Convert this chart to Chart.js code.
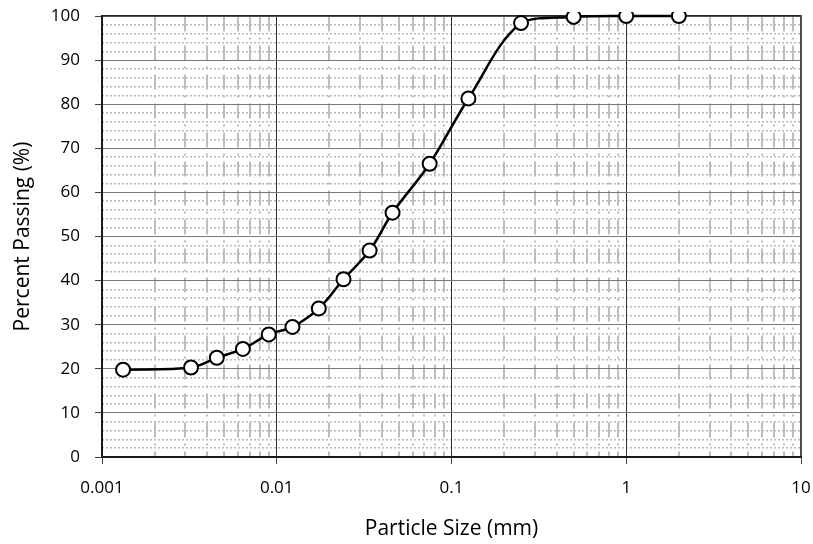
<!DOCTYPE html>
<html>
<head>
<meta charset="utf-8">
<script src="https://cdn.jsdelivr.net/npm/chart.js@4"></script>
<style>
  html, body { margin: 0; padding: 0; background: #fff; }
  #wrap { width: 813px; height: 544px; }
</style>
</head>
<body>
<div id="wrap"><canvas id="chart1"></canvas></div>
<script>
// particle size (mm) and percent passing
var sizes = [0.00132, 0.00323, 0.00454, 0.0064, 0.009, 0.0123, 0.0174, 0.0241, 0.034, 0.046, 0.075, 0.125, 0.25, 0.5, 1, 2];
var passing = [19.8, 20.3, 22.5, 24.5, 27.8, 29.5, 33.7, 40.3, 46.8, 55.4, 66.5, 81.3, 98.4, 99.8, 100, 100];

var xTickLabels = ['0.001', '0.01', '0.1', '1', '10'];
var decades = [0.001, 0.01, 0.1, 1, 10];
var yTicks = [0, 10, 20, 30, 40, 50, 60, 70, 80, 90, 100];

var font = "'Open Sans', 'Liberation Sans', sans-serif";

function isDecade(v) {
    var l = Math.log10(v);
    return Math.abs(l - Math.round(l)) < 1e-6;
}

// major ticks at each decade, minor at 2..9
function logTicks(scale) {
    var t = [];
    for (var d = 0; d < decades.length; d++) {
        t.push({ value: decades[d], major: true });
        if (d < decades.length - 1) {
            for (var k = 2; k <= 9; k++) t.push({ value: decades[d] * k, major: false });
        }
    }
    scale.ticks = t;
}

function noPad(s) {
    s.paddingTop = 0; s.paddingBottom = 0;
    s.paddingLeft = 0; s.paddingRight = 0;
}

var points = sizes.map(function (s, i) { return { x: s, y: passing[i] }; });

var ctx = document.getElementById('chart1').getContext('2d');
var myChart = new Chart(ctx, {
    type: 'line',
    data: {
        datasets: [{
            data: points,
            borderColor: '#000',
            borderWidth: 2.5,
            tension: 0.35,
            pointRadius: 7,
            pointBorderWidth: 2,
            pointBackgroundColor: '#fff',
            pointBorderColor: '#000',
            clip: 4
        }]
    },
    options: {
        responsive: true,
        maintainAspectRatio: false,
        animation: false,
        layout: { padding: { left: 0, right: 12, top: 16, bottom: 0 } },
        plugins: {
            legend: { display: false },
            tooltip: { enabled: false }
        },
        scales: {
            x2: {
                type: 'logarithmic',
                position: 'top',
                min: 0.001,
                max: 10,
                afterBuildTicks: logTicks,
                afterFit: function (s) { s.height = 0; noPad(s); },
                ticks: { display: false, autoSkip: false },
                grid: {
                    drawTicks: false,
                    lineWidth: 2,
                    color: function (c) {
                        return c.tick && !isDecade(c.tick.value) ? '#bdbdbd' : 'rgba(0,0,0,0)';
                    }
                },
                border: { display: true, color: '#262626', width: 1.5, dash: [15, 6, 2, 6] }
            },
            y2: {
                position: 'right',
                min: 0,
                max: 100,
                afterFit: function (s) { s.width = 0; noPad(s); },
                ticks: { display: false, stepSize: 2 },
                grid: {
                    drawTicks: false,
                    lineWidth: 1.5,
                    color: function (c) {
                        return c.tick && c.tick.value % 10 !== 0 ? '#b8b8b8' : 'rgba(0,0,0,0)';
                    }
                },
                border: { display: true, color: '#4d4d4d', width: 2, dash: [2, 2] }
            },
            x: {
                type: 'logarithmic',
                position: 'bottom',
                min: 0.001,
                max: 10,
                afterBuildTicks: logTicks,
                afterFit: function (s) { s.height = 87; noPad(s); },
                ticks: {
                    autoSkip: false,
                    maxRotation: 0,
                    padding: 14,
                    color: '#000',
                    font: { family: font, size: 17 },
                    callback: function (value) {
                        if (!isDecade(value)) return '';
                        return xTickLabels[Math.round(Math.log10(value)) + 3];
                    }
                },
                grid: {
                    lineWidth: 1,
                    tickLength: 7,
                    color: function (c) {
                        return c.tick && isDecade(c.tick.value) ? '#333333' : 'rgba(0,0,0,0)';
                    },
                    tickColor: function (c) {
                        return c.tick && isDecade(c.tick.value) ? '#404040' : 'rgba(0,0,0,0)';
                    }
                },
                border: { color: '#1a1a1a', width: 2 },
                title: {
                    display: true,
                    text: 'Particle Size (mm)',
                    color: '#000',
                    font: { family: font, size: 21 },
                    padding: { top: 0, bottom: 2 }
                }
            },
            y: {
                min: 0,
                max: 100,
                afterBuildTicks: function (s) {
                    s.ticks = yTicks.map(function (v) { return { value: v }; });
                },
                afterFit: function (s) { s.width = 102; noPad(s); },
                ticks: {
                    padding: 15,
                    color: '#000',
                    font: { family: font, size: 17 }
                },
                grid: {
                    lineWidth: 1,
                    tickLength: 7,
                    color: '#7a7a7a',
                    tickColor: '#404040'
                },
                border: { color: '#1a1a1a', width: 2 },
                title: {
                    display: true,
                    text: 'Percent Passing (%)',
                    color: '#000',
                    font: { family: font, size: 21 },
                    padding: { top: 10, bottom: 0 }
                }
            }
        }
    }
});
</script>
</body>
</html>
